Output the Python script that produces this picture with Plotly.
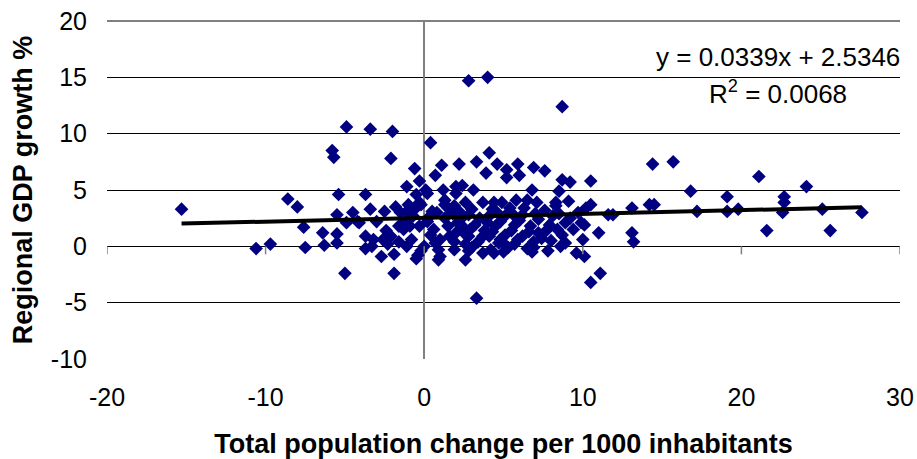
import plotly.graph_objects as go

# Total population change per 1000 inhabitants (x) vs regional GDP growth % (y)
pop_change = [
    -15.3, -10.6, -9.7, -8.6, -8.0, -7.6, -7.5, -6.4, -6.3, -5.5, -5.5, -5.4, -5.5, -5.0, -4.9, -4.5, -4.1,
    -3.7, -3.7, -3.7, -3.4, -3.2, -3.0, -2.7, -2.5, -2.3, -1.9, -1.9, -1.8, -1.5, -1.1, -1.1, -0.5, -0.5,
    -0.2, -0.3, 0.1, -4.9, -3.4, -2.0, -5.8, -5.7, -2.1, 0.4, -0.6, 0.7, 2.8, 4.0, 8.7, 1.1, 2.2, 3.3,
    4.1, 3.9, 4.6, 5.2, 5.2, 5.9, 6.0, 6.9, 7.6, 8.7, 9.2, 10.5, 14.4, 1.2, 2.0, 2.4, 3.1, 6.8, 8.5,
    15.7, 16.8, 19.1, 21.1, 22.7, 24.1, 14.2, 14.5, 17.2, 19.1, 19.8, 21.6, 22.7, 22.6, 25.1, 25.6, 27.6,
    11.1, 10.5, 3.3, 13.1, 13.1, 13.2, 11.0, 11.6, 11.9, 10.5, 10.0, 10.1, 9.6, 8.6, 7.8, 10.1, 9.4,
    0.9, 2.6, 5.3, 6.5, 6.9, 10.2,
    -4.2, -1.0, -0.3, 0.2, 1.3, 1.9, -1.6, -0.9, -1.2, 0.2, 0.8, 1.5, 2.1, -3.3, -0.4, 0.0, 0.4, 1.0,
    1.0, 1.9, -2.1, -2.6,
    2.0, 3.7, 4.4, 4.9, 5.8, 6.5, 7.1, 8.3, 9.1, 9.7, 2.6, 2.2, 2.8, 4.1, 5.1, 6.2, 7.2, 8.1, 8.9,
    2.4, 3.2, 4.5, 5.7, 6.7, 7.9, 2.0, 2.8, 4.1, 5.1, 6.2, 7.2, 8.7, 2.6, 4.7, 5.7, 3.7, 4.2,
    -0.2, 1.3, -1.1, 0.5, -1.3, -0.3, 0.6, 2.5, 0.9, 1.9, 2.8, 4.0, 3.7, 4.8, 5.2, 4.6, 5.7, 8.3, 9.9,
    0.3, 0.7, 1.3, 1.6, 1.8, 2.3, 2.9, 3.0, 3.4, 3.5, 3.8, 4.3, 4.3, 4.8, 5.0, 5.4, 5.5, 5.9, 6.0, 6.3,
    6.6, 6.9, 7.0, 7.4, 7.6, 7.7, 8.0, 8.4, 8.5, 8.9, 9.2, -0.7, -0.8, 1.5, 3.0, 4.4, 6.8, -1.6, -2.4, -0.6,
]
gdp_growth = [
    3.3, -0.2, 0.2, 4.2, 3.5, 1.7, -0.1, 1.2, 0.1, 2.8, 0.3, 4.6, 1.1, -2.4, 2.1, 3.0, 2.1,
    4.6, 0.9, -0.2, 3.3, 0.6, 2.2, -0.9, 3.1, 0.2, -0.7, -2.4, 3.5, 3.0, 5.3, 0.0, 4.6, -1.1,
    -0.4, 5.8, 5.0, 10.6, 10.4, 10.2, 8.5, 7.9, 7.8, 9.2, 6.9, 6.3, 14.7, 15.0, 12.4, 7.2, 7.3, 7.5,
    8.3, 6.5, 7.3, 6.8, 6.1, 7.3, 6.3, 7.0, 6.7, 5.9, 5.7, 5.8, 7.3, 5.0, 5.3, 5.4, 5.0, 5.0, 4.9,
    7.5, 4.9, 4.4, 6.2, 4.4, 5.3, 3.7, 3.7, 3.1, 3.1, 3.3, 1.4, 3.9, 3.0, 3.3, 1.4, 3.0,
    -2.4, -3.2, -4.6, 3.4, 1.2, 0.4, 1.2, 2.8, 2.8, 3.7, 0.6, -0.9, -0.6, 0.0, -0.4, 1.9, 1.5,
    -1.2, -1.2, -0.1, -0.2, -0.1, 3.4,
    2.2, 3.7, 3.9, 4.7, 4.1, 3.6, 1.8, 1.8, 2.2, 2.2, 3.0, 1.8, 2.1, 0.0, -0.8, 0.0, 1.0, 0.6,
    -0.9, -0.3, 0.9, 0.6,
    4.7, 3.9, 3.9, 3.9, 4.1, 4.1, 3.9, 3.9, 4.0, 3.0, 3.9, 3.1, 2.8, 2.7, 2.7, 2.8, 2.4, 2.7, 2.1,
    1.8, 1.9, 1.8, 1.9, 1.8, 1.9, 1.2, 0.9, 0.9, 1.0, 0.9, 1.2, 1.0, 0.2, 0.3, 0.2, -0.6, -0.3,
    3.7, 3.7, 3.1, 3.1, 1.5, 1.8, 1.5, 1.2, -0.3, 0.4, -0.4, 2.1, 0.9, 0.6, 0.0, 3.0, 2.7, 3.6, 2.1,
    2.6, 0.3, 2.5, 0.9, 2.9, 2.4, 1.5, 3.3, 0.4, 2.5, 1.4, 3.3, 1.3, 2.2, -0.5, 3.4, 1.4, 0.6, 2.3, 3.4,
    1.3, 0.4, 2.9, 0.7, 3.2, 1.4, 0.5, 1.5, 2.9, 0.3, 2.5, 2.7, 0.6, 3.4, -0.1, -0.6, -0.5, 0.4, 1.4, 3.3,
]

# Linear trend as printed on the chart
trend_slope = 0.0339
trend_intercept = 2.5346
equation_text = "y = 0.0339x + 2.5346"
r2_text = "R<sup>2</sup> = 0.0068"

x_ticks = [-20, -10, 0, 10, 20, 30]
x_tick_labels = ["-20", "-10", "0", "10", "20", "30"]
y_ticks = [-10, -5, 0, 5, 10, 15, 20]
y_tick_labels = ["-10", "-5", "0", "5", "10", "15", "20"]

x_min, x_max = min(pop_change), max(pop_change)
trend_x = [x_min, x_max]
trend_y = [trend_slope * v + trend_intercept for v in trend_x]

FONT = "Liberation Sans, Arial, sans-serif"

fig = go.Figure()
fig.add_trace(go.Scatter(
    x=pop_change, y=gdp_growth, mode="markers",
    marker=dict(symbol="diamond", size=10.5, color="#000080", line=dict(width=0)),
    showlegend=False, hoverinfo="x+y",
))
fig.add_trace(go.Scatter(
    x=trend_x, y=trend_y, mode="lines",
    line=dict(color="black", width=4), showlegend=False, hoverinfo="skip",
))

shapes = []
for xt in x_ticks:
    shapes.append(dict(
        type="line", xref="x", yref="y", x0=xt, x1=xt,
        ysizemode="pixel", yanchor=0, y0=0, y1=-8,
        line=dict(color="#808080", width=1.5), layer="above",
    ))
# top gridline along the upper plot edge (Plotly drops the grid line lying on the edge)
shapes.append(dict(
    type="line", xref="paper", yref="paper", x0=0, x1=1, y0=1, y1=1,
    line=dict(color="black", width=1), layer="below",
))

W, H = 917, 459
L, R, T, B = 107, 17, 21, 100
PW, PH = W - L - R, H - T - B


def px(xp):
    return (xp - L) / PW


def py(yp):
    return (H - B - yp) / PH


fig.update_layout(
    width=W, height=H,
    margin=dict(l=L, r=R, t=T, b=B, autoexpand=False),
    paper_bgcolor="white", plot_bgcolor="white",
    font=dict(family=FONT, color="black"),
    shapes=shapes,
    annotations=[
        dict(text=equation_text, xref="paper", yref="paper", x=px(778), y=py(57),
             xanchor="center", yanchor="middle", showarrow=False,
             font=dict(family=FONT, size=26, color="black")),
        dict(text=r2_text, xref="paper", yref="paper", x=px(778), y=py(93),
             xanchor="center", yanchor="middle", showarrow=False,
             font=dict(family=FONT, size=26, color="black")),
    ],
)
fig.update_xaxes(
    range=[-20, 30], tickvals=x_ticks, ticktext=x_tick_labels, showgrid=False,
    zeroline=True, zerolinecolor="#808080", zerolinewidth=1.5,
    showline=False, ticks="", ticklabelstandoff=21, automargin=False,
    ticklabeloverflow="allow",
    tickfont=dict(family=FONT, size=25, color="black"),
    title=dict(text="<b>Total population change per 1000 inhabitants</b>",
               font=dict(family=FONT, size=27, color="black"), standoff=29),
    fixedrange=True,
)
fig.update_yaxes(
    range=[-10, 20], tickvals=y_ticks, ticktext=y_tick_labels, showgrid=True, gridcolor="black", gridwidth=1,
    zeroline=True, zerolinecolor="black", zerolinewidth=1,
    showline=False, ticks="", ticklabelstandoff=19, automargin=False,
    ticklabeloverflow="allow",
    tickfont=dict(family=FONT, size=25, color="black"),
    title=dict(text="<b>Regional GDP growth %</b>",
               font=dict(family=FONT, size=27, color="black"), standoff=10),
    fixedrange=True,
)

fig.write_html(
    "out.html",
    config={"displayModeBar": False},
    post_script="document.body.style.margin='0';document.body.style.padding='0';"
                "document.body.style.overflow='hidden';",
)
